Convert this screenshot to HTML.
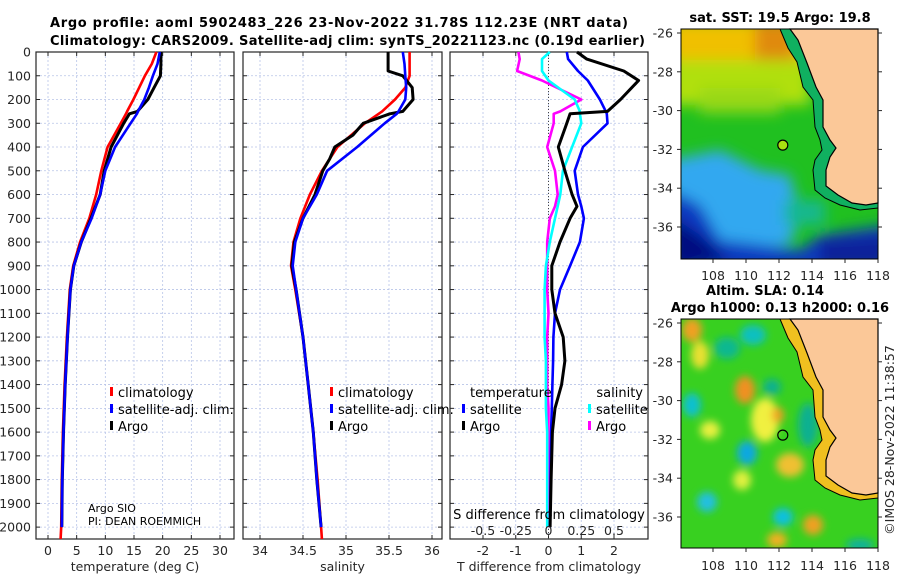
<!DOCTYPE html>
<html><head><meta charset="utf-8"><style>
html,body{margin:0;padding:0;background:#fff;}
svg{display:block;font-family:"DejaVu Sans","Liberation Sans",sans-serif;}
.tk{font-size:12.5px;fill:#262626;}
.ttl{font-size:13px;font-weight:bold;fill:#000;}
.lg{font-size:13px;fill:#000;}
</style></head><body>
<svg id="fig" width="900" height="580" viewBox="0 0 900 580">
<defs>
<filter id="bl" x="-20%" y="-20%" width="140%" height="140%"><feGaussianBlur stdDeviation="7"/></filter>
<filter id="bl2" x="-20%" y="-20%" width="140%" height="140%"><feGaussianBlur stdDeviation="4"/></filter>
<clipPath id="cm1"><rect x="681" y="29" width="197" height="230"/></clipPath>
<clipPath id="cm2"><rect x="681" y="319" width="197" height="229"/></clipPath>
</defs>
<text class="ttl" x="50" y="27" textLength="578">Argo profile: aoml 5902483_226 23-Nov-2022 31.78S 112.23E (NRT data)</text>
<text class="ttl" x="50" y="45" textLength="595">Climatology: CARS2009. Satellite-adj clim: synTS_20221123.nc (0.19d earlier)</text>

<g id="panels"></g>

<g>
<g clip-path="url(#cm1)">
<rect x="681" y="29" width="197" height="230" fill="#20c020"/>
<g filter="url(#bl)">
<rect x="670" y="20" width="150" height="45" fill="#f0c000"/>
<rect x="755" y="20" width="40" height="65" fill="#e08a10"/>
<rect x="670" y="60" width="140" height="45" fill="#b0e010"/>
<rect x="700" y="88" width="80" height="25" fill="#98d818"/>
<polygon points="670,160 720,150 760,170 790,175 800,215 790,245 670,255" fill="#30a8f0"/>
<polygon points="670,190 700,205 720,240 800,250 820,235 890,225 890,270 670,270" fill="#1038c0"/>
<polygon points="670,215 700,235 730,260 670,270" fill="#000c80"/>
<polygon points="820,240 890,235 890,270 820,270" fill="#08209a"/>
<rect x="785" y="200" width="40" height="25" fill="#18b890"/>
</g>
</g>
</g>
<g>
<g clip-path="url(#cm2)">
<rect x="681" y="319" width="197" height="229" fill="#38d020"/>
<g filter="url(#bl2)">
<ellipse cx="692" cy="330" rx="10" ry="12" fill="#f0a020"/>
<ellipse cx="700" cy="355" rx="9" ry="14" fill="#e8e030"/>
<ellipse cx="745" cy="390" rx="10" ry="14" fill="#f09020"/>
<ellipse cx="765" cy="420" rx="14" ry="22" fill="#f0f040"/>
<ellipse cx="778" cy="415" rx="6" ry="8" fill="#f0a020"/>
<ellipse cx="790" cy="465" rx="14" ry="12" fill="#f0c030"/>
<ellipse cx="813" cy="525" rx="10" ry="10" fill="#f0a020"/>
<ellipse cx="777" cy="540" rx="10" ry="8" fill="#f0b020"/>
<ellipse cx="742" cy="480" rx="9" ry="10" fill="#e0f040"/>
<ellipse cx="710" cy="430" rx="10" ry="9" fill="#e8f040"/>
<ellipse cx="753" cy="335" rx="13" ry="10" fill="#10c0c0"/>
<ellipse cx="727" cy="348" rx="13" ry="11" fill="#10b890"/>
<ellipse cx="692" cy="405" rx="9" ry="12" fill="#10c0d0"/>
<ellipse cx="747" cy="453" rx="10" ry="12" fill="#10a8e0"/>
<ellipse cx="707" cy="502" rx="10" ry="10" fill="#20c0e0"/>
<ellipse cx="783" cy="517" rx="10" ry="9" fill="#10c0e0"/>
<ellipse cx="772" cy="387" rx="9" ry="8" fill="#10b090"/>
<ellipse cx="808" cy="425" rx="10" ry="22" fill="#10b090"/>
<ellipse cx="860" cy="545" rx="14" ry="6" fill="#10b0a0"/>
</g>
</g>
</g>
<text class="ttl" x="780" y="22" text-anchor="middle">sat. SST: 19.5 Argo: 19.8</text>
<text class="ttl" x="765" y="295" text-anchor="middle">Altim. SLA: 0.14</text>
<text class="ttl" x="780" y="312" text-anchor="middle">Argo h1000: 0.13 h2000: 0.16</text>
<text class="tk" transform="translate(894,440) rotate(-90)" text-anchor="middle">©IMOS 28-Nov-2022 11:38:57</text>
<g id="maps"></g>
</svg>
<script>
// ---------- data ----------
const depthStd = [0,50,100,150,200,250,260,300,400,500,600,700,800,900,1000,1200,1400,1600,1800,2000];
const depthClim = [0,50,100,150,200,250,260,300,400,500,600,700,800,900,1000,1200,1400,1600,1800,2000,2050];
const depthArgoS = [0,80,100,150,200,250,260,300,350,400,450,500,600,700,800,900,1000,1200,1400,1600,1800,2000];
const tempArgo = [19.7,19.7,19.6,18.5,17.4,15.6,14.2,13.2,11.0,9.8,9.1,7.5,5.8,4.5,3.9,3.4,3.0,2.7,2.5,2.4];
const tempClim = [18.9,18.1,16.9,15.9,14.9,13.8,13.6,12.7,10.4,9.3,8.4,7.2,5.6,4.4,3.8,3.3,2.9,2.6,2.4,2.3,2.2];
const tempSat = [19.5,19.1,18.3,17.6,16.8,15.7,15.5,14.4,11.7,10.0,9.1,7.6,5.8,4.5,3.9,3.4,3.0,2.7,2.5,2.4];
const salArgo = [35.49,35.49,35.66,35.77,35.78,35.66,35.51,35.2,35.08,34.87,34.81,34.73,34.64,34.5,34.4,34.37,34.42,34.5,34.56,34.62,34.66,34.71];
const salClim = [35.74,35.74,35.74,35.69,35.57,35.42,35.38,35.22,34.9,34.72,34.58,34.47,34.39,34.36,34.41,34.5,34.56,34.62,34.67,34.71,34.72];
const salSat = [35.66,35.68,35.69,35.7,35.69,35.61,35.59,35.45,35.13,34.78,34.66,34.5,34.41,34.38,34.42,34.5,34.56,34.62,34.66,34.71];
const depthDiff = [0,30,80,120,200,250,260,300,400,500,600,650,700,800,900,1000,1100,1200,1300,1400,1500,1600,1800,2000];
const tDiffArgo = [0.87,1.17,2.3,2.75,2.2,1.8,0.66,0.56,0.3,0.5,0.72,0.87,0.66,0.35,0.1,0.1,0.2,0.45,0.5,0.4,0.2,0.12,0.08,0.05];
const tDiffSat = [0.56,0.6,0.9,1.2,1.57,1.75,1.78,1.8,1.05,0.8,0.9,1.0,1.08,0.96,0.66,0.35,0.2,0.15,0.14,0.12,0.1,0.08,0.06,0.05];
const sDiffSat = [0.01,-0.05,-0.05,0.0,0.2,0.24,0.24,0.25,0.18,0.11,0.09,0.07,0.05,0.01,-0.02,-0.03,-0.03,-0.03,-0.02,-0.02,-0.02,-0.01,-0.01,-0.01];
const sDiffArgo = [-0.23,-0.22,-0.24,-0.05,0.25,0.09,0.04,0.04,-0.01,0.05,0.07,0.05,0.01,-0.01,-0.01,-0.01,0.0,-0.01,-0.01,-0.01,0.0,0.0,0.0,0.0];
const depthTicks = [0,100,200,300,400,500,600,700,800,900,1000,1100,1200,1300,1400,1500,1600,1700,1800,1900,2000];
const tempTicks = [0,5,10,15,20,25,30];
const salTicks = [34,34.5,35,35.5,36];
const tDiffTicks = [-2,-1,0,1,2];
const sDiffTicks = [-0.5,-0.25,0,0.25,0.5];
const sDiffTickLabels = ["-0.5","-0.25","0","0.25","0.5"];
const lonTicks = [108,110,112,114,116,118];
const latTicks = [-26,-28,-30,-32,-34,-36];
const argoLon = 112.23, argoLat = -31.78;

// ---------- helpers ----------
const NS = "http://www.w3.org/2000/svg";
const panels = document.getElementById('panels');
function mk(tag, attrs, parent){
  const e = document.createElementNS(NS, tag);
  for (const k in attrs) e.setAttribute(k, attrs[k]);
  (parent||panels).appendChild(e); return e;
}
const TOP=52, BOT=539, DMAX=2050;
const yD = d => TOP + (BOT-TOP)*d/DMAX;
function lin(d0,d1,p0,p1){ return v => p0 + (v-d0)*(p1-p0)/(d1-d0); }

function panel(name, x0, x1, xs, xTicks, xLabels, title, showY){
  const g = mk('g', {});
  
  
  xTicks.forEach(t=>{ const l=mk('line',{x1:xs(t),x2:xs(t),y1:TOP,y2:BOT,stroke:'#b8c4e8','stroke-width':0.8,'stroke-dasharray':'2,2'},g);
      });
  depthTicks.forEach(t=>{ const l=mk('line',{x1:x0,x2:x1,y1:yD(t),y2:yD(t),stroke:'#b8c4e8','stroke-width':0.8,'stroke-dasharray':'2,2'},g);
      });
  const fr = mk('rect',{x:x0,y:TOP,width:x1-x0,height:BOT-TOP,fill:'none',stroke:'#262626','stroke-width':1.2},g);
   
  depthTicks.forEach(t=>{
    mk('line',{x1:x0,x2:x0+4,y1:yD(t),y2:yD(t),stroke:'#262626'},g);
    mk('line',{x1:x1,x2:x1-4,y1:yD(t),y2:yD(t),stroke:'#262626'},g);
    if(showY){ const tx=mk('text',{x:x0-5,y:yD(t)+4.5,'text-anchor':'end',class:'tk'},g); tx.textContent=t;
        }
  });
  xTicks.forEach((t,i)=>{
    mk('line',{x1:xs(t),x2:xs(t),y1:BOT,y2:BOT-4,stroke:'#262626'},g);
    mk('line',{x1:xs(t),x2:xs(t),y1:TOP,y2:TOP+4,stroke:'#262626'},g);
    const tx=mk('text',{x:xs(t),y:555,'text-anchor':'middle',class:'tk'},g); tx.textContent=xLabels[i];
     
  });
  const tt=mk('text',{x:(x0+x1)/2,y:571,'text-anchor':'middle',class:'tk'},g); tt.textContent=title;
   
  return g;
}
function series(g, name, vals, depths, xs, color, w){
  const pts = vals.map((v,i)=> xs(v).toFixed(1)+','+yD(depths[i]).toFixed(1)).join(' ');
  const p = mk('polyline',{points:pts,fill:'none',stroke:color,'stroke-width':w||2.6,'stroke-linejoin':'round'},g);
  
  
}
function legend(g, x, y, color, label, name){
  const m = mk('rect',{x:x,y:y-10,width:3,height:9,fill:color},g);
   
  const t = mk('text',{x:x+8,y:y,class:'lg'},g); t.textContent = label;
   
}

const xT = lin(0,30,48,220);
const gT = panel('temperature-panel',36,234,xT,tempTicks,tempTicks.map(String),'temperature (deg C)',true);
series(gT,'temp-climatology-line',tempClim,depthClim,xT,'#ff0000');
series(gT,'temp-argo-line',tempArgo,depthStd,xT,'#000000',3);
series(gT,'temp-satellite-line',tempSat,depthStd,xT,'#0000ff');
legend(gT,110,397,'#ff0000','climatology','legend-climatology');
legend(gT,110,414,'#0000ff','satellite-adj. clim.','legend-satellite-adj');
legend(gT,110,431,'#000000','Argo','legend-argo');
const c1=mk('text',{x:88,y:512,style:'font-size:11px'},gT); c1.textContent='Argo SIO';
 
const c2=mk('text',{x:88,y:525,style:'font-size:11px'},gT); c2.textContent='PI: DEAN ROEMMICH';
 

const xS = lin(34,36,260,432);
const gS = panel('salinity-panel',243,442,xS,salTicks,salTicks.map(String),'salinity',false);
series(gS,'sal-climatology-line',salClim,depthClim,xS,'#ff0000');
series(gS,'sal-argo-line',salArgo,depthArgoS,xS,'#000000',3);
series(gS,'sal-satellite-line',salSat,depthStd,xS,'#0000ff');
legend(gS,330,397,'#ff0000','climatology','legend-climatology');
legend(gS,330,414,'#0000ff','satellite-adj. clim.','legend-satellite-adj');
legend(gS,330,431,'#000000','Argo','legend-argo');

const xTD = lin(-2,2,483,614);
const xSD = lin(-0.5,0.5,483,614);
const gD = panel('difference-panel',450,648,xTD,tDiffTicks,tDiffTicks.map(String),'T difference from climatology',false);
mk('line',{x1:xTD(0),x2:xTD(0),y1:TOP,y2:BOT,stroke:'#444','stroke-width':1,'stroke-dasharray':'1,2'},gD);
series(gD,'sdiff-argo-line',sDiffArgo,depthDiff,xSD,'#ff00ff');
series(gD,'sdiff-satellite-line',sDiffSat,depthDiff,xSD,'#00ffff');
series(gD,'tdiff-satellite-line',tDiffSat,depthDiff,xTD,'#0000ff');
series(gD,'tdiff-argo-line',tDiffArgo,depthDiff,xTD,'#000000',3);
const lt=mk('text',{x:470,y:397,class:'lg'},gD); lt.textContent='temperature';
 
legend(gD,462,414,'#0000ff','satellite','legend-t-satellite');
legend(gD,462,431,'#000000','Argo','legend-t-argo');
const ls=mk('text',{x:643,y:397,'text-anchor':'end',class:'lg'},gD); ls.textContent='salinity';
 
legend(gD,588,414,'#00ffff','satellite','legend-s-satellite');
legend(gD,588,431,'#ff00ff','Argo','legend-s-argo');
const sdt=mk('text',{x:549,y:519,'text-anchor':'middle',class:'lg'},gD); sdt.textContent='S difference from climatology';
 
sDiffTicks.forEach((t,i)=>{ const tx=mk('text',{x:xSD(t),y:535,'text-anchor':'middle',class:'tk'},gD); tx.textContent=sDiffTickLabels[i];
    });

// ---------- maps ----------
const mg = document.getElementById('maps');
const lonX = lin(108,118,713,878);
// isobath line and land edge (pixel outline of map image)
const isobath = [[780,29],[788,48],[797,62],[803,87],[813,100],[815,127],[820,140],[822,150],[815,160],[813,170],[815,190],[825,198],[840,205],[860,210],[878,208]];
const landEdge = [[790,29],[798,40],[807,63],[816,87],[823,100],[823,127],[830,140],[836,148],[830,157],[826,170],[826,186],[838,195],[852,203],[866,205],[878,203]];
[[0,'sst'],[290,'sla']].forEach(([off,nm])=>{
  const latY = lin(-26,-36,33+off,227+off);
  const shelfPts = isobath.map(p=>p[0]+','+(p[1]+off)).concat(landEdge.slice().reverse().map(p=>p[0]+','+(p[1]+off))).join(' ');
  const sh = mk('polygon',{points:shelfPts,fill:nm==='sst'?'#10b060':'#f0c020',stroke:'none'},mg);
   
  const sl = mk('polyline',{points:isobath.map(p=>p[0]+','+(p[1]+off)).join(' '),fill:'none',stroke:'#000','stroke-width':1},mg);
   
  const land = landEdge.map(p=>p[0]+','+(p[1]+off)).join(' ') + ' 878,'+(29+off);
  const ld = mk('polygon',{points:land,fill:'#fbc898',stroke:'#000','stroke-width':1.2},mg);
   
  const fr = mk('rect',{x:681,y:29+off,width:197,height:nm==='sst'?230:229,fill:'none',stroke:'#000','stroke-width':1},mg);
   
  const ci = mk('circle',{cx:lonX(argoLon),cy:latY(argoLat),r:5,fill:nm==='sst'?'#a8e010':'none',stroke:'#000','stroke-width':1.2},mg);
   
  lonTicks.forEach(t=>{
    mk('line',{x1:lonX(t),x2:lonX(t),y1:(nm==='sst'?259:548),y2:(nm==='sst'?263:552),stroke:'#262626'},mg);
    const tx=mk('text',{x:lonX(t),y:(nm==='sst'?280:570),'text-anchor':'middle',class:'tk'},mg); tx.textContent=t;
     
  });
  latTicks.forEach(t=>{
    mk('line',{x1:677,x2:681,y1:latY(t),y2:latY(t),stroke:'#262626'},mg);
    mk('line',{x1:878,x2:882,y1:latY(t),y2:latY(t),stroke:'#262626'},mg);
    const tx=mk('text',{x:673,y:latY(t)+4.5,'text-anchor':'end',class:'tk'},mg); tx.textContent=t;
     
  });
});
</script>
</body></html>
